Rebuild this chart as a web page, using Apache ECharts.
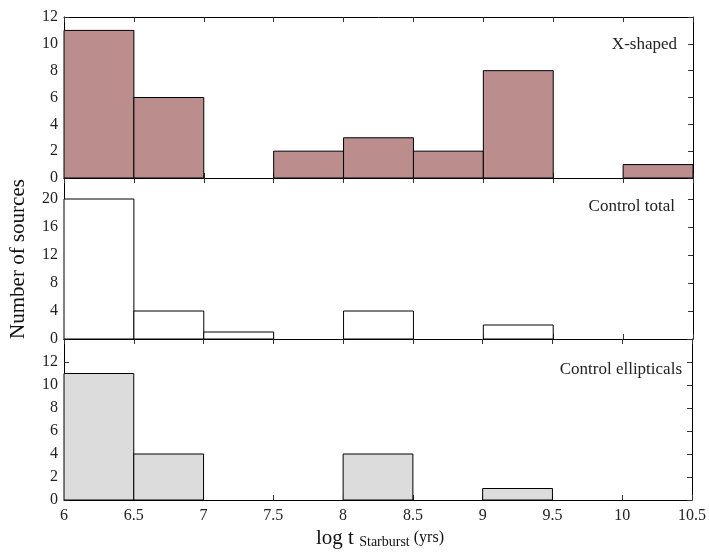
<!DOCTYPE html>
<html>
<head>
<meta charset="utf-8">
<script src="https://cdn.jsdelivr.net/npm/echarts@6/dist/echarts.min.js"></script>
<style>html,body{margin:0;padding:0;background:#fff}#c{width:709px;height:552px}</style>
</head>
<body>
<div id="c"></div>
<script>
var binStarts = [6, 6.5, 7, 7.5, 8, 8.5, 9, 9.5, 10];
var binWidth = 0.5;
var xShaped = [11, 6, 0, 2, 3, 2, 8, 0, 1];
var controlTotal = [20, 4, 1, 0, 4, 0, 2, 0, 0];
var controlEllipticals = [11, 4, 0, 0, 4, 0, 1, 0, 0];
var panelNames = ['X-shaped', 'Control total', 'Control ellipticals'];
var xTicks = [6, 6.5, 7, 7.5, 8, 8.5, 9, 9.5, 10, 10.5];

var FONT = 'Liberation Serif';
var panels = [
  {vals: xShaped, color: '#bb8d8c', max: 12, interval: 2, showMax: true},
  {vals: controlTotal, color: '#ffffff', max: 23, interval: 4, showMax: false},
  {vals: controlEllipticals, color: '#dcdcdc', max: 14, interval: 2, showMax: false}
];
var tops = [17, 178, 339];
var H = 161;

var grids = [], xAxes = [], yAxes = [], series = [], graphics = [];
panels.forEach(function (p, i) {
  grids.push({left: 64, right: 16, top: tops[i], height: H, show: false});
  var isBottom = i === 2;
  var xBase = {
    type: 'value', min: 6, max: 10.5, interval: 0.5, gridIndex: i,
    axisLine: {show: true, onZero: false, lineStyle: {color: '#000', width: 1}},
    axisTick: {show: true, inside: true, length: 5, lineStyle: {color: '#333'}},
    splitLine: {show: false}
  };
  xAxes.push(Object.assign({}, xBase, {
    position: 'bottom',
    axisLabel: {show: isBottom, fontFamily: FONT, fontSize: 16, color: '#222', margin: 8,
      formatter: function (v) { return xTicks.indexOf(v) >= 0 ? String(v) : ''; }}
  }));
  xAxes.push(Object.assign({}, xBase, {position: 'top', axisLabel: {show: false}}));
  var yBase = {
    type: 'value', min: 0, max: p.max, interval: p.interval, gridIndex: i,
    axisLine: {show: true, lineStyle: {color: '#000', width: 1}},
    axisTick: {show: true, inside: true, length: 5, lineStyle: {color: '#333'}},
    splitLine: {show: false}
  };
  yAxes.push(Object.assign({}, yBase, {
    position: 'left',
    axisLabel: {fontFamily: FONT, fontSize: 16, color: '#222', margin: 6,
      showMaxLabel: p.showMax, showMinLabel: true}
  }));
  yAxes.push(Object.assign({}, yBase, {position: 'right', axisLabel: {show: false}}));

  var data = binStarts.map(function (s, k) { return [s, s + binWidth, p.vals[k]]; });
  series.push({
    type: 'custom', xAxisIndex: i * 2, yAxisIndex: i * 2,
    data: data, z: 1,
    renderItem: (function (color) {
      return function (params, api) {
        var v = api.value(2);
        if (!v) return null;
        var p0 = api.coord([api.value(0), 0]);
        var p1 = api.coord([api.value(1), v]);
        return {
          type: 'rect',
          shape: {x: p0[0], y: p1[1], width: p1[0] - p0[0], height: p0[1] - p1[1]},
          style: {fill: color, stroke: '#000', lineWidth: 1}
        };
      };
    })(p.color)
  });
});

graphics.push({type: 'text', right: 32, top: 36, style: {text: panelNames[0], font: '17px ' + FONT, fill: '#222'}});
graphics.push({type: 'text', right: 34, top: 198, style: {text: panelNames[1], font: '17px ' + FONT, fill: '#222'}});
graphics.push({type: 'text', right: 27, top: 361, style: {text: panelNames[2], font: '17px ' + FONT, fill: '#222'}});
graphics.push({type: 'text', x: 18, y: 259, rotation: Math.PI / 2, style: {
  text: 'Number of sources', font: '21px ' + FONT, fill: '#111', align: 'center', verticalAlign: 'middle'}});
graphics.push({type: 'text', x: 380, y: 538, style: {
  rich: {
    a: {fontFamily: FONT, fontSize: 21, fill: '#111'},
    s: {fontFamily: FONT, fontSize: 14, fill: '#111', padding: [8, 0, 0, 0]},
    b: {fontFamily: FONT, fontSize: 16, fill: '#111'}
  },
  text: '{a|log t }{s|Starburst}{b| (yrs)}', align: 'center', verticalAlign: 'middle'}});

var chart = echarts.init(document.getElementById('c'), null, {renderer: 'canvas'});
chart.setOption({
  animation: false,
  backgroundColor: '#fff',
  grid: grids, xAxis: xAxes, yAxis: yAxes, series: series, graphic: graphics
});
</script>
</body>
</html>
